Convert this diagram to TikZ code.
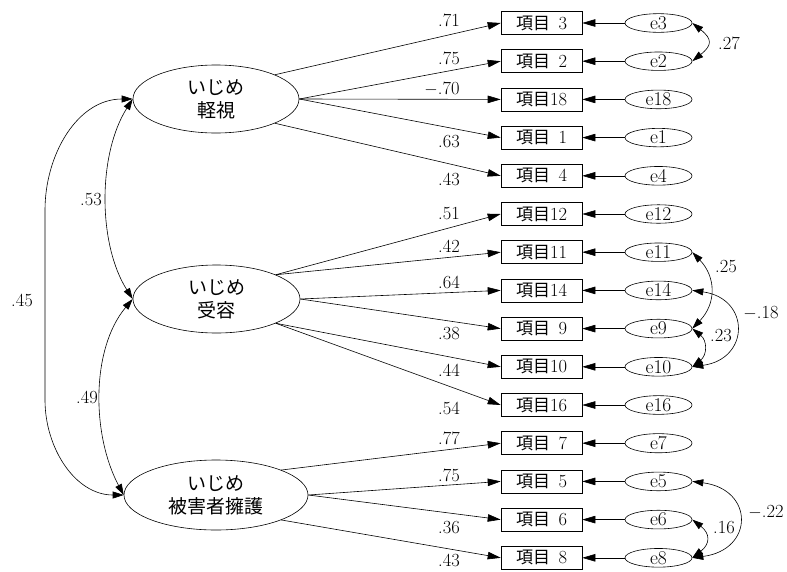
\documentclass[tikz,border=0pt]{standalone}
\usepackage{fontspec}
\newfontfamily\cjk{Noto Sans CJK JP}
\usetikzlibrary{arrows.meta,shapes.geometric}
\newcommand{\kmk}{{\fontsize{17}{20}\selectfont\cjk 項目}}
\begin{document}
\begin{tikzpicture}[x=1pt,y=1pt,
  every node/.style={inner sep=0pt},
  item/.style={draw,line width=0.6pt,minimum width=81pt,minimum height=23pt,font=\fontsize{18.5}{20}\selectfont},
  err/.style={ellipse,draw,line width=0.6pt,minimum width=67pt,minimum height=18pt,font=\fontsize{19.5}{18}\selectfont},
  lat/.style={ellipse,draw,line width=0.6pt,align=center,font=\fontsize{19}{23}\selectfont\cjk},
  arr/.style={line width=0.6pt,-{Triangle[length=13pt,width=7.5pt]}},
  cov/.style={line width=0.6pt,{Triangle[length=11pt,width=7pt]}-{Triangle[length=11pt,width=7pt]}},
  lbl/.style={font=\fontsize{18.5}{18}\selectfont}]
\useasboundingbox (0,0) rectangle (787,-571);

% latent variables
\node[lat,minimum width=166pt,minimum height=68pt] (L1) at (216,-99) {いじめ\\軽視};
\node[lat,minimum width=167pt,minimum height=68pt] (L2) at (216.5,-299) {いじめ\\受容};
\node[lat,minimum width=184pt,minimum height=70pt] (L3) at (216,-495) {いじめ\\被害者擁護};

% observed items and errors
\foreach \k/\lab [count=\i from 0] in {3/\hphantom{0}3,2/\hphantom{0}2,18/18,1/\hphantom{0}1,4/\hphantom{0}4,12/12,11/11,14/14,9/\hphantom{0}9,10/10,16/16,7/\hphantom{0}7,5/\hphantom{0}5,6/\hphantom{0}6,8/\hphantom{0}8}{
  \node[item] (b\k) at (541.5,{-(23+38.2*\i)}) {\kmk\lab};
  \node[err] (e\k) at (658.5,{-(23+38.2*\i)}) {e\k};
  \draw[arr] (e\k) -- (b\k);
}

% paths
\draw[arr] (L1.north east) -- (b3.west);
\draw[arr] (L1.east) -- (b2.west);
\draw[arr] (L1.east) -- (b18.west);
\draw[arr] (L1.east) -- (b1.west);
\draw[arr] (L1.south east) -- (b4.west);
\draw[arr] (L2.north east) -- (b12.west);
\draw[arr] (L2.north east) -- (b11.west);
\draw[arr] (L2.east) -- (b14.west);
\draw[arr] (L2.east) -- (b9.west);
\draw[arr] (L2.south east) -- (b10.west);
\draw[arr] (L2.south east) -- (b16.west);
\draw[arr] (L3.north east) -- (b7.west);
\draw[arr] (L3.east) -- (b5.west);
\draw[arr] (L3.east) -- (b6.west);
\draw[arr] (L3.south east) -- (b8.west);

% path labels
\node[lbl] (p3) at (449,-20) {.71};
\node[lbl] (p2) at (449,-58) {.75};
\node[lbl] (p18) at (442,-89) {$-$.70};
\node[lbl] (p1) at (449,-142) {.63};
\node[lbl] (p4) at (449,-179) {.43};
\node[lbl] (p12) at (449,-214) {.51};
\node[lbl] (p11) at (449,-246) {.42};
\node[lbl] (p14) at (449,-282) {.64};
\node[lbl] (p9) at (449,-334) {.38};
\node[lbl] (p10) at (449,-370) {.44};
\node[lbl] (p16) at (449,-408) {.54};
\node[lbl] (p7) at (449,-438) {.77};
\node[lbl] (p5) at (449,-475) {.75};
\node[lbl] (p6) at (449,-528) {.36};
\node[lbl] (p8) at (449,-560) {.43};

% latent covariances
\draw[cov] (L1.west) to[out=180,in=90] (45,-210) -- (45,-400) to[out=-90,in=180] (L3.west);
\draw[cov] (L1.west) .. controls +(-35,-55) and +(-35,55) .. (L2.west);
\draw[cov] (L2.west) .. controls +(-42,-50) and +(-32,60) .. (L3.west);
\node[lbl] (c45) at (22,-300) {.45};
\node[lbl] (c53) at (91,-200) {.53};
\node[lbl] (c49) at (87,-397) {.49};

% error covariances
\draw[cov] (e3.east) .. controls +(20,-16) and +(20,16) .. (e2.east);
\draw[cov] (e11.east) .. controls +(24,-25) and +(24,25) .. (e9.east);
\draw[cov] (e9.east) .. controls +(15,-12) and +(15,12) .. (e10.east);
\draw[cov] (e14.east) .. controls +(58,-8) and +(58,8) .. (e10.east);
\draw[cov] (e5.east) .. controls +(62,-8) and +(62,8) .. (e8.east);
\draw[cov] (e6.east) .. controls +(18,-14) and +(18,14) .. (e8.east);
\node[lbl] (c27) at (729,-43) {.27};
\node[lbl] (c25) at (726,-267) {.25};
\node[lbl] (c18) at (761,-313) {$-$.18};
\node[lbl] (c23) at (721,-336) {.23};
\node[lbl] (c22) at (766,-512) {$-$.22};
\node[lbl] (c16) at (724,-528) {.16};
\end{tikzpicture}
\end{document}
